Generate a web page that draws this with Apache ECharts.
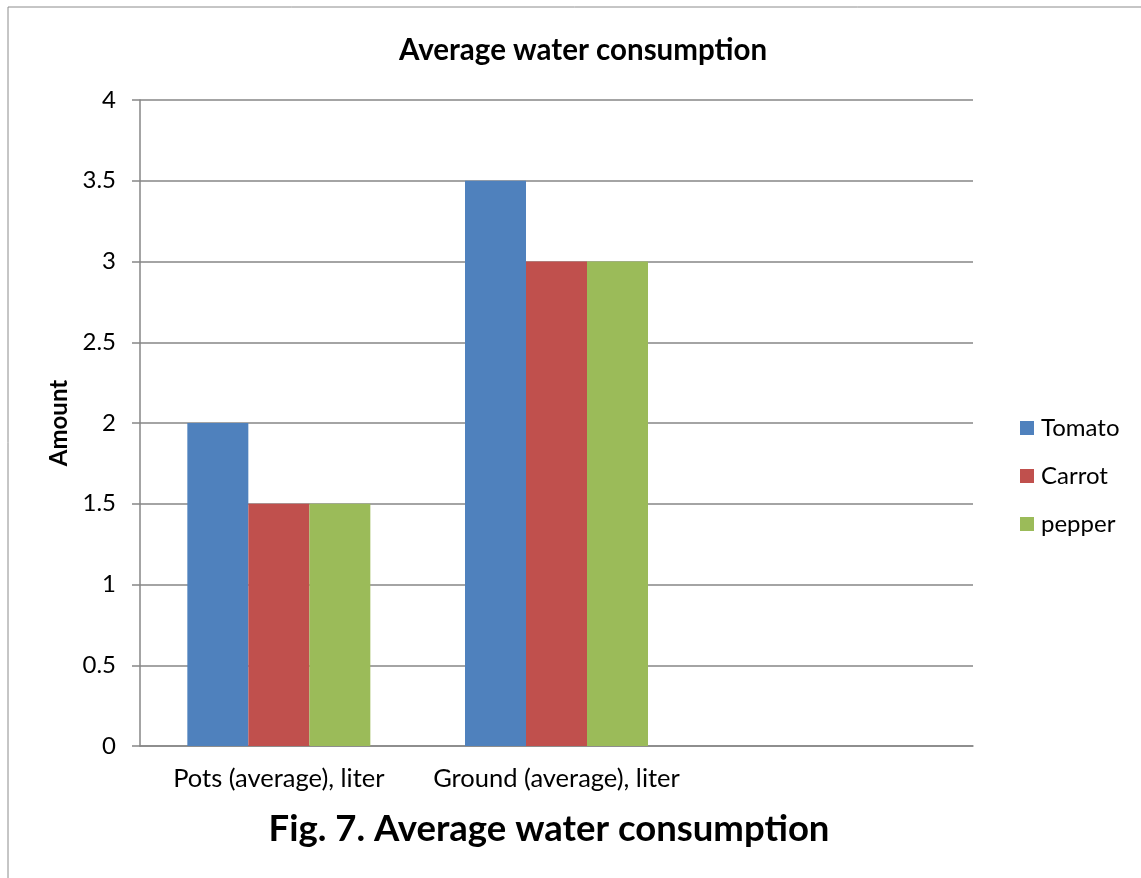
<!DOCTYPE html>
<html><head><meta charset="utf-8">
<script src="https://cdn.jsdelivr.net/npm/echarts@6/dist/echarts.min.js"></script>
<style>html,body{margin:0;padding:0;background:#fff}#c{width:1141px;height:878px}</style>
</head><body><div id="c"></div>
<script>
const categories = ['Pots (average), liter', 'Ground (average), liter', ''];
const tomato = [2, 3.5, null];
const carrot = [1.5, 3, null];
const pepper = [1.5, 3, null];
const seriesNames = ['Tomato', 'Carrot', 'pepper'];
const colors = ['#4F81BD', '#C0504D', '#9BBB59'];
const FONT = 'Lato';
const chart = echarts.init(document.getElementById('c'));
const mk = (name, data, color) => ({
  name, type: 'bar', data, barWidth: 61, barGap: '0%',
  itemStyle: { color }
});
chart.setOption({
  animation: false,
  textStyle: { fontFamily: FONT },
  graphic: [
    { type: 'line', shape: { x1: 8, y1: 7, x2: 1141, y2: 7 }, style: { stroke: '#8c8c8c', lineWidth: 1 } },
    { type: 'line', shape: { x1: 8, y1: 7, x2: 8, y2: 878 }, style: { stroke: '#8c8c8c', lineWidth: 1 } }
  ],
  title: [
    { text: 'Average water consumption', left: 578, top: 30, textAlign: 'center',
      textStyle: { fontFamily: FONT, fontSize: 29.5, fontWeight: 'bold', color: '#000' } },
    { text: 'Fig. 7. Average water consumption', left: 544, top: 806, textAlign: 'center',
      textStyle: { fontFamily: FONT, fontSize: 36.5, fontWeight: 'bold', color: '#000' } }
  ],
  legend: {
    orient: 'vertical', left: 1015, top: 411, itemWidth: 14, itemHeight: 14, itemGap: 24,
    icon: 'rect', data: seriesNames,
    textStyle: { fontFamily: FONT, fontSize: 24, lineHeight: 24, color: '#000', padding: [0, 0, 0, 2] }
  },
  grid: { left: 140, right: 168, top: 100, bottom: 132, containLabel: false },
  xAxis: {
    type: 'category', data: categories,
    axisLine: { lineStyle: { color: '#868686', width: 1.5 } },
    axisTick: { show: false },
    axisLabel: { color: '#000', fontSize: 25.5, margin: 20, fontFamily: FONT, interval: 0 }
  },
  yAxis: {
    type: 'value', min: 0, max: 4, interval: 0.5,
    name: 'Amount', nameLocation: 'middle', nameGap: 68, nameRotate: 90,
    nameTextStyle: { fontFamily: FONT, fontSize: 24, fontWeight: 'bold', color: '#000' },
    axisLine: { show: true, lineStyle: { color: '#868686', width: 1.5 } },
    axisTick: { show: true, length: 8, lineStyle: { color: '#868686', width: 1.5 } },
    axisLabel: { color: '#000', fontSize: 24, margin: 24, fontFamily: FONT },
    splitLine: { lineStyle: { color: '#868686', width: 1.5 } }
  },
  series: [
    mk(seriesNames[0], tomato, colors[0]),
    mk(seriesNames[1], carrot, colors[1]),
    mk(seriesNames[2], pepper, colors[2])
  ]
});
</script></body></html>
